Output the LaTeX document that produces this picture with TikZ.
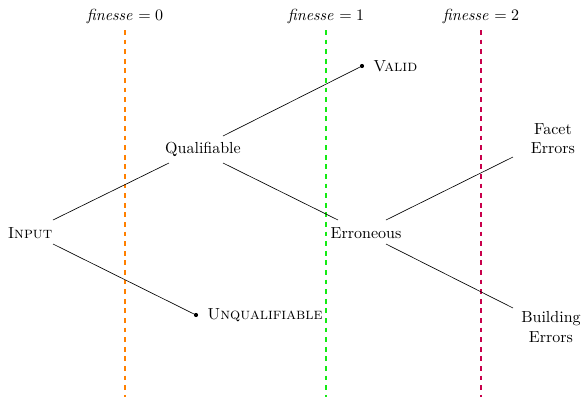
\documentclass[tikz,border=0pt]{standalone}
\usetikzlibrary{calc}
\definecolor{fzero}{RGB}{255,128,0}
\definecolor{fone}{RGB}{20,235,20}
\definecolor{ftwo}{RGB}{200,0,75}
\begin{document}
\begin{tikzpicture}[x=0.625pt,y=-0.625pt,
  finline/.style={very thick,dashed},
  finlabel/.style={inner sep=1pt},
  dotnode/.style={circle,fill=black,inner sep=0pt,minimum size=2.6pt},
  textnode/.style={align=center},
  edge/.style={black,line width=0.4pt}]
\useasboundingbox (0,0) rectangle (584,397);
% finesse lines
\coordinate (a0) at (125,30); \coordinate (b0) at (125,397);
\coordinate (a1) at (326,30); \coordinate (b1) at (326,397);
\coordinate (a2) at (481,30); \coordinate (b2) at (481,397);
\draw[finline,fzero] (a0) -- (b0);
\draw[finline,fone] (a1) -- (b1);
\draw[finline,ftwo] (a2) -- (b2);
\node[finlabel] (l0) at (125,16) {$\mathit{finesse} = 0$};
\node[finlabel] (l1) at (326,16) {$\mathit{finesse} = 1$};
\node[finlabel] (l2) at (481,16) {$\mathit{finesse} = 2$};
% nodes
\node[textnode] (input) at (30,233) {\textsc{Input}};
\node[textnode] (qual) at (203,149) {Qualifiable};
\node[dotnode,label={[label distance=2pt]right:\textsc{Valid}}] (valid) at (362,66) {};
\node[dotnode,label={[label distance=2pt]right:\textsc{Unqualifiable}}] (unqual) at (196,315) {};
\node[textnode] (err) at (366,233) {Erroneous};
\node[textnode] (facet) at (553,139) {Facet\\Errors};
\node[textnode] (build) at (551,327) {Building\\Errors};
% edges
\draw[edge] ($(input.center)+(23,-13)$) -- ($(qual.center)+(-34,14)$);
\draw[edge] ($(input.center)+(23,11)$) -- (unqual.center);
\draw[edge] ($(qual.center)+(20,-13)$) -- (valid.center);
\draw[edge] ($(qual.center)+(20,14)$) -- ($(err.center)+(-28,-13)$);
\draw[edge] ($(err.center)+(20,-13)$) -- ($(facet.center)+(-40,18)$);
\draw[edge] ($(err.center)+(20,11)$) -- ($(build.center)+(-38,-19)$);
\end{tikzpicture}
\end{document}
